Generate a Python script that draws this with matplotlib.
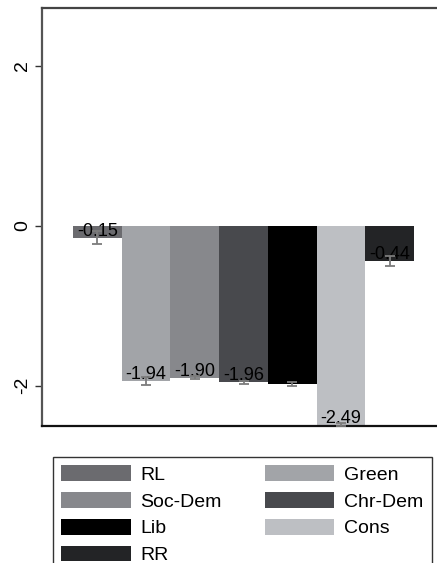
import matplotlib
matplotlib.use("Agg")
import matplotlib.pyplot as plt
from matplotlib.patches import Patch
import numpy as np

plt.rcParams['font.family'] = ['Liberation Sans', 'DejaVu Sans']

# party families, mean effect and error half-width
parties = ['RL', 'Green', 'Soc-Dem', 'Chr-Dem', 'Lib', 'Cons', 'RR']
values = [-0.15, -1.94, -1.90, -1.96, -1.98, -2.49, -0.44]
errors = [0.08, 0.05, 0.02, 0.02, 0.02, 0.02, 0.06]
colors = ['#6b6b6f', '#a2a4a8', '#87888c', '#48494d', '#000000', '#bdbfc3', '#232426']
yticks = [-2, 0, 2]

W, H = 437, 563
fig = plt.figure(figsize=(W / 100, H / 100), dpi=100)
# axes runs a little past the right edge of the figure
ax = fig.add_axes([42 / W, (H - 425.6) / H, 403 / W, (425.6 - 8) / H])

x = np.arange(len(parties))
ax.bar(x, values, width=1.0, color=colors, zorder=2)

for xi, v in zip(x, values):
    ax.annotate('%.2f' % v, (xi, v), xytext=(0, 1.5), textcoords='offset points',
                ha='center', va='baseline', fontsize=13, color='black', zorder=3)

ax.errorbar(x, values, yerr=errors, fmt='none', ecolor='#7c7c7c',
            elinewidth=1.3, capsize=3.5, capthick=1.3, zorder=4)

ax.set_xlim(-1.137, 7.137)
ax.set_ylim(-2.5, 2.72)
ax.set_xticks([])
ax.set_yticks(yticks)
ax.set_yticklabels([str(t) for t in yticks], rotation=90, va='center', fontsize=14)
ax.tick_params(axis='y', length=5, width=1, pad=3, color='#333333')

ax.spines['right'].set_visible(False)
ax.spines['left'].set_color('#555555')
ax.spines['left'].set_linewidth(1.6)
ax.spines['top'].set_color('#444444')
ax.spines['top'].set_linewidth(1.6)
ax.spines['bottom'].set_color('#111111')
ax.spines['bottom'].set_linewidth(1.6)

# legend filled row-wise: RL, Green / Soc-Dem, Chr-Dem / Lib, Cons / RR
order = [0, 2, 4, 6, 1, 3, 5]
handles = [Patch(facecolor=colors[i], edgecolor='none') for i in order]
labels = [parties[i] for i in order]
leg = fig.legend(handles, labels, ncol=2, loc='upper left',
                 bbox_to_anchor=(52.7 / W, (H - 456.7) / H, (431.7 - 52.7) / W, 0),
                 mode='expand', fontsize=14, handlelength=3.57, handleheight=0.86,
                 handletextpad=0.5, labelspacing=0.42, borderpad=0.45,
                 borderaxespad=0, fancybox=False, framealpha=1)
leg.get_frame().set_edgecolor('#333333')
leg.get_frame().set_linewidth(1.0)

fig.savefig('out.png', dpi=100)
